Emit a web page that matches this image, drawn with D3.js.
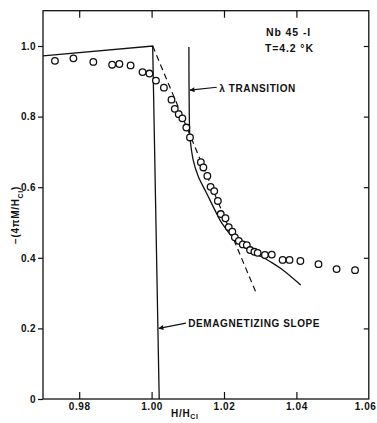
<!DOCTYPE html>
<html>
<head>
<meta charset="utf-8">
<script src="https://cdn.jsdelivr.net/npm/d3@7"></script>
<style>
  html, body { margin: 0; padding: 0; background: #fff; }
  svg { display: block; }
  text { font-family: "Liberation Sans", Arial, sans-serif; font-weight: bold; fill: #111; }
</style>
</head>
<body>
<svg id="chart" width="377" height="423"></svg>
<script>
// Measured magnetization, Nb 45-I at T = 4.2 K
const fieldRatio = [0.9733, 0.9784, 0.9839, 0.9891, 0.9911, 0.9942, 0.9975, 0.9994, 1.0012, 1.0034,
  1.0055, 1.0064, 1.0075, 1.0085, 1.0096, 1.0106, 1.0136, 1.0143, 1.0154, 1.0163,
  1.0173, 1.0183, 1.0191, 1.0204, 1.0213, 1.0223, 1.0230, 1.0241, 1.0252, 1.0263,
  1.0272, 1.0284, 1.0293, 1.0313, 1.0332, 1.0362, 1.0381, 1.0411, 1.0461, 1.0511, 1.0562];
const magnetization = [0.958, 0.965, 0.955, 0.947, 0.949, 0.945, 0.926, 0.922, 0.902, 0.882,
  0.848, 0.822, 0.807, 0.795, 0.769, 0.741, 0.671, 0.656, 0.632, 0.601,
  0.589, 0.561, 0.524, 0.512, 0.487, 0.474, 0.458, 0.448, 0.438, 0.436,
  0.422, 0.417, 0.414, 0.408, 0.409, 0.394, 0.394, 0.391, 0.382, 0.368, 0.365];

// Ideal curve: reversible rise to H/Hc1 = 1, then the demagnetizing slope
const idealX = [0.97, 1.0003, 1.0021];
const idealY = [0.972, 1.0, 0.0];

// Dashed extrapolation from the peak
const dashX = [1.0003, 1.0291];
const dashY = [1.0, 0.295];

// Lambda-transition curve
const lambdaX = [1.0103, 1.0104, 1.0106, 1.0115, 1.0129, 1.0152, 1.0175, 1.0194, 1.0230, 1.0267, 1.0304, 1.0328, 1.0358, 1.0412];
const lambdaY = [0.997, 0.819, 0.743, 0.677, 0.630, 0.583, 0.535, 0.498, 0.452, 0.422, 0.403, 0.389, 0.369, 0.323];

// Axis ticks
const xTicks = [0.98, 1.00, 1.02, 1.04, 1.06];
const xTickLabels = ["0.98", "1.00", "1.02", "1.04", "1.06"];
const yTicks = [0, 0.2, 0.4, 0.6, 0.8, 1.0];
const yTickLabels = ["0", "0.2", "0.4", "0.6", "0.8", "1.0"];

const svg = d3.select("#chart");
const x = d3.scaleLinear().domain([0.97, 1.06]).range([43, 368.8]);
const y = d3.scaleLinear().domain([0, 1.1]).range([399, 10.7]);

const ink = "#111";
const plot = svg.append("g");

// Frame
plot.append("rect")
  .attr("x", x(0.97)).attr("y", y(1.1))
  .attr("width", x(1.06) - x(0.97)).attr("height", y(0) - y(1.1))
  .attr("fill", "none").attr("stroke", ink).attr("stroke-width", 1.3);

// Bottom axis: inward ticks, labels below
const xBottom = d3.axisBottom(x).tickValues(xTicks).tickSizeInner(-7).tickSizeOuter(0)
  .tickFormat((d, i) => xTickLabels[i]);
const gxb = svg.append("g").attr("transform", `translate(0,${y(0)})`).call(xBottom);
gxb.select(".domain").remove();
gxb.selectAll(".tick line").attr("stroke", ink).attr("stroke-width", 1.2)
  .filter(d => d === 1.06).remove();
gxb.selectAll(".tick text").attr("y", 4).attr("dy", "0.71em")
  .style("font-size", "10px").style("letter-spacing", "0.6px").attr("fill", ink);
// last label sits against the right edge of the page
gxb.selectAll(".tick text").filter(d => d === 1.06)
  .attr("text-anchor", "end").attr("x", 376 - x(1.06));

// Top axis: inward ticks only
const xTop = d3.axisTop(x).tickValues(xTicks.slice(0, 4)).tickSizeInner(-7).tickSizeOuter(0).tickFormat("");
const gxt = svg.append("g").attr("transform", `translate(0,${y(1.1)})`).call(xTop);
gxt.select(".domain").remove();
gxt.selectAll(".tick line").attr("stroke", ink).attr("stroke-width", 1.2);

// Left axis: outward ticks with labels
const yLeft = d3.axisLeft(y).tickValues(yTicks).tickSizeInner(5).tickSizeOuter(0)
  .tickFormat((d, i) => yTickLabels[i]);
const gyl = svg.append("g").attr("transform", `translate(${x(0.97)},0)`).call(yLeft);
gyl.select(".domain").remove();
gyl.selectAll(".tick line").attr("stroke", ink).attr("stroke-width", 1.2);
gyl.selectAll(".tick text").attr("x", -7)
  .style("font-size", "10px").style("letter-spacing", "0.4px").attr("fill", ink);

// Right axis: inward ticks only
const yRight = d3.axisRight(y).tickValues(yTicks.slice(1)).tickSizeInner(-5).tickSizeOuter(0).tickFormat("");
const gyr = svg.append("g").attr("transform", `translate(${x(1.06)},0)`).call(yRight);
gyr.select(".domain").remove();
gyr.selectAll(".tick line").attr("stroke", ink).attr("stroke-width", 1.2);

// Axis titles
const yTitle = svg.append("text")
  .attr("transform", `translate(19,215) rotate(-90)`)
  .attr("text-anchor", "middle")
  .style("font-size", "10px").style("letter-spacing", "0.7px");
yTitle.append("tspan").text("\u2212(4\u03C0M/H");
yTitle.append("tspan").attr("baseline-shift", "sub").style("font-size", "7px").text("CI");
yTitle.append("tspan").text(")");

const xTitle = svg.append("text")
  .attr("x", 171).attr("y", 417)
  .style("font-size", "10px").style("letter-spacing", "0.7px");
xTitle.append("tspan").text("H/H");
xTitle.append("tspan").attr("dy", 2).style("font-size", "7px").text("CI");

// Lines
const line = d3.line().x(d => x(d[0])).y(d => y(d[1]));

plot.append("path")
  .datum(d3.zip(idealX, idealY))
  .attr("d", line)
  .attr("fill", "none").attr("stroke", ink).attr("stroke-width", 1.3);

plot.append("path")
  .datum(d3.zip(dashX, dashY))
  .attr("d", line)
  .attr("fill", "none").attr("stroke", ink).attr("stroke-width", 1.2)
  .attr("stroke-dasharray", "6,4");

plot.append("path")
  .datum(d3.zip(lambdaX, lambdaY))
  .attr("d", line.curve(d3.curveCatmullRom.alpha(0.5)))
  .attr("fill", "none").attr("stroke", ink).attr("stroke-width", 1.3);

// Data points
plot.selectAll("circle.pt")
  .data(d3.zip(fieldRatio, magnetization))
  .join("circle")
  .attr("class", "pt")
  .attr("cx", d => x(d[0])).attr("cy", d => y(d[1]))
  .attr("r", 3.3)
  .attr("fill", "#fff").attr("stroke", ink).attr("stroke-width", 1.3);

// Annotations with arrows
const defs = svg.append("defs");
defs.append("marker")
  .attr("id", "arrow").attr("viewBox", "0 0 10 10")
  .attr("refX", 9).attr("refY", 5)
  .attr("markerWidth", 7).attr("markerHeight", 5).attr("orient", "auto")
  .attr("markerUnits", "userSpaceOnUse")
  .append("path").attr("d", "M0,0 L10,5 L0,10 Z").attr("fill", ink);

function annotate(tx, ty, hx, hy, label, lx, ly) {
  svg.append("line")
    .attr("x1", x(tx)).attr("y1", y(ty)).attr("x2", x(hx)).attr("y2", y(hy))
    .attr("stroke", ink).attr("stroke-width", 1.1).attr("marker-end", "url(#arrow)");
  svg.append("text").attr("x", x(lx)).attr("y", y(ly))
    .style("font-size", "10px").style("letter-spacing", "0.6px").text(label);
}

annotate(1.0180, 0.883, 1.0106, 0.875, "\u03BB TRANSITION", 1.0187, 0.870);
annotate(1.0095, 0.215, 1.0020, 0.200, "DEMAGNETIZING SLOPE", 1.0101, 0.204);

// Sample label
svg.append("text").attr("x", x(1.0316)).attr("y", y(1.028))
  .style("font-size", "10.5px").style("letter-spacing", "0.9px").text("Nb 45 -I");
svg.append("text").attr("x", x(1.0313)).attr("y", y(0.982))
  .style("font-size", "10.5px").style("letter-spacing", "0.9px").text("T=4.2 \u00B0K");
</script>
</body>
</html>
